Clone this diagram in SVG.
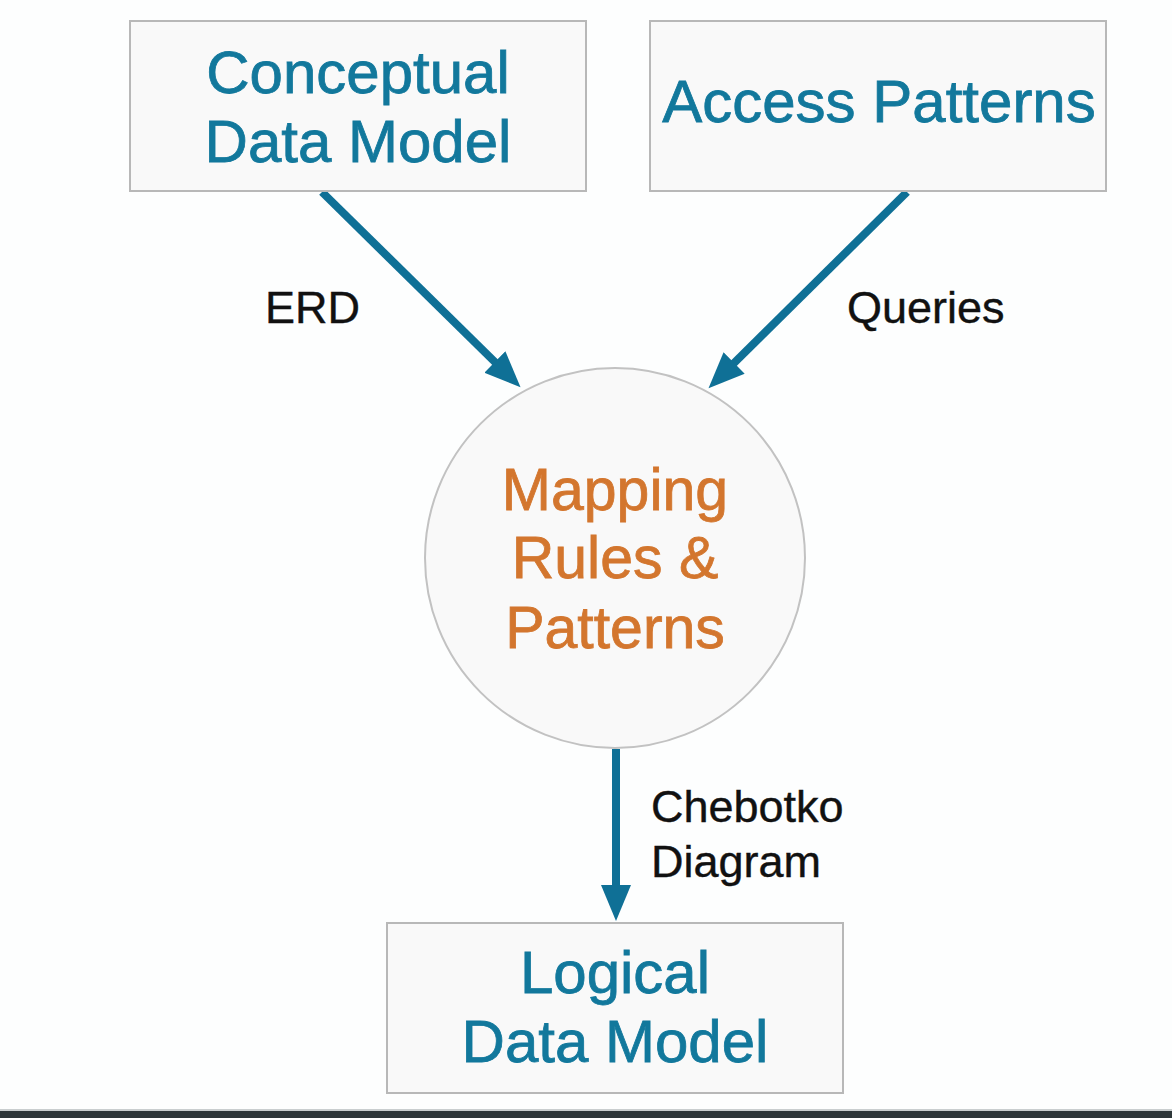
<svg xmlns="http://www.w3.org/2000/svg" width="1172" height="1118" viewBox="0 0 1172 1118">
  <defs>
    <style>
      .box { fill: #f9f9f9; stroke: #b8b8b8; stroke-width: 2; }
      .circ { fill: #f9f9f9; stroke: #c2c2c2; stroke-width: 2; }
      .t { font-family: "Liberation Sans", Arial, Helvetica, sans-serif; font-size: 60px; fill: #12789c; stroke: #12789c; stroke-width: 0.8; text-anchor: middle; }
      .o { font-family: "Liberation Sans", Arial, Helvetica, sans-serif; font-size: 59px; fill: #d3762e; stroke: #d3762e; stroke-width: 0.8; text-anchor: middle; }
      .lbl { font-family: "Liberation Sans", Arial, Helvetica, sans-serif; font-size: 45px; fill: #111111; stroke: #111111; stroke-width: 0.4; }
      .conn { stroke: #0f7096; stroke-width: 8; fill: none; marker-end: url(#ah); }
    </style>
    <marker id="ah" markerUnits="userSpaceOnUse" viewBox="0 -16 38 32" refX="10" refY="0" markerWidth="38" markerHeight="32" orient="auto">
      <path d="M0,-15 L36,0 L0,15 Z" fill="#0f7096"/>
    </marker>
  </defs>
  <rect x="0" y="0" width="1172" height="1118" fill="#fdfefe"/>
  <g id="connectors">
    <line class="conn" x1="322" y1="192" x2="502" y2="369"/>
    <line class="conn" x1="907" y1="192" x2="727" y2="370"/>
    <line class="conn" x1="616" y1="749" x2="616" y2="895"/>
    <text class="lbl" x="265" y="323">ERD</text>
    <text class="lbl" x="847" y="323">Queries</text>
    <text class="lbl" x="651" y="822">Chebotko</text>
    <text class="lbl" x="651" y="877">Diagram</text>
  </g>
  <g id="conceptual">
    <rect class="box" x="130" y="21" width="456" height="170"/>
    <text class="t" x="358" y="93">Conceptual</text>
    <text class="t" x="358" y="162">Data Model</text>
  </g>
  <g id="access">
    <rect class="box" x="650" y="21" width="456" height="170"/>
    <text class="t" x="879" y="122">Access Patterns</text>
  </g>
  <g id="mapping">
    <circle class="circ" cx="615" cy="558" r="190"/>
    <text class="o" x="615" y="510">Mapping</text>
    <text class="o" x="615" y="578">Rules &amp;</text>
    <text class="o" x="615" y="648">Patterns</text>
  </g>
  <g id="logical">
    <rect class="box" x="387" y="923" width="456" height="170"/>
    <text class="t" x="615" y="993">Logical</text>
    <text class="t" x="615" y="1062">Data Model</text>
  </g>
  <rect x="0" y="1109" width="1172" height="2" fill="#c9cecf"/>
  <rect x="0" y="1111" width="1172" height="7" fill="#2d3639"/>
</svg>
